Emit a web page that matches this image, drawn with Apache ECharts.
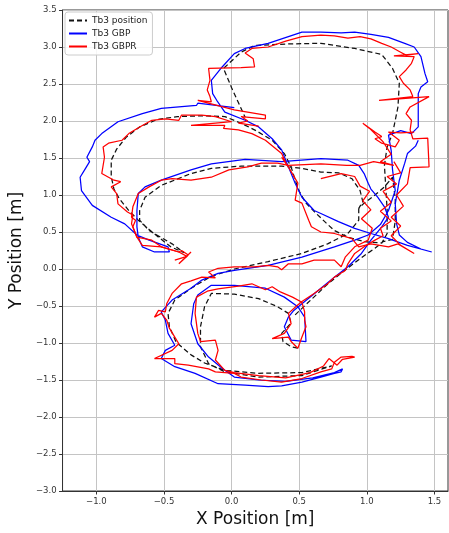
<!DOCTYPE html>
<html><head><meta charset="utf-8">
<script src="https://cdn.jsdelivr.net/npm/echarts@6/dist/echarts.min.js"></script>
<style>html,body{margin:0;padding:0;background:#fff}#c{width:449px;height:533px}</style>
</head><body><div id="c"></div>
<script>
// ---- Data (metres) ----
const xTicks = [-1.0, -0.5, 0.0, 0.5, 1.0, 1.5];
const yTicks = [-3.0, -2.5, -2.0, -1.5, -1.0, -0.5, 0.0, 0.5, 1.0, 1.5, 2.0, 2.5, 3.0, 3.5];
const seriesNames = ["Tb3 position", "Tb3 GBP", "Tb3 GBPR"];

// Tb3 position (reference path), S band + bottom loop
const posBottom = [[0.94,0.82],[0.94,0.66],[0.86,0.48],[0.71,0.34],[0.52,0.21],[0.27,0.10],[0.02,0.00],[-0.15,-0.10],[-0.30,-0.26],[-0.42,-0.42],[-0.47,-0.60],[-0.46,-0.78],[-0.41,-0.99],[-0.30,-1.16],[-0.20,-1.27],[-0.05,-1.37],[0.19,-1.41],[0.52,-1.40],[0.74,-1.31],[0.52,-1.44],[0.20,-1.46],[-0.05,-1.39],[-0.17,-1.28],[-0.23,-1.05],[-0.23,-0.78],[-0.20,-0.51],[-0.15,-0.33],[0.02,-0.34],[0.20,-0.40],[0.34,-0.51],[0.42,-0.60],[0.44,-0.73],[0.37,-0.87],[0.38,-0.98],[0.44,-1.05],[0.49,-1.07]];
// Tb3 position, main path
const posMain = [[0.47,-0.62],[0.55,-0.48],[0.62,-0.36],[0.70,-0.22],[0.80,-0.07],[0.90,0.07],[0.98,0.18],[1.06,0.28],[1.12,0.37],[1.19,0.40],[1.21,0.65],[1.21,0.95],[1.19,1.24],[1.13,1.11],[1.06,1.00],[0.98,0.89],[0.94,0.82],[0.97,0.91],[0.95,1.06],[0.89,1.22],[0.79,1.30],[0.66,1.31],[0.52,1.36],[0.37,1.39],[0.07,1.39],[-0.15,1.36],[-0.30,1.29],[-0.52,1.13],[-0.64,0.97],[-0.68,0.79],[-0.68,0.66],[-0.61,0.52],[-0.44,0.34],[-0.35,0.22],[-0.45,0.30],[-0.54,0.43],[-0.62,0.55],[-0.69,0.66],[-0.76,0.79],[-0.83,0.95],[-0.87,1.08],[-0.89,1.25],[-0.89,1.47],[-0.85,1.62],[-0.78,1.78],[-0.68,1.92],[-0.55,2.02],[-0.40,2.06],[-0.20,2.07],[-0.05,2.06],[0.07,1.97],[0.18,1.87],[0.30,1.74],[0.39,1.56],[0.44,1.38],[0.47,1.20],[0.50,1.05],[0.55,0.89],[0.62,0.76],[0.70,0.62],[0.76,0.52],[0.86,0.43],[0.98,0.37],[1.11,0.35],[1.15,0.48],[1.15,0.80],[1.14,1.10],[1.13,1.40],[1.15,1.65],[1.19,1.83],[1.23,2.19],[1.24,2.51],[1.19,2.71],[1.11,2.90],[0.91,2.98],[0.66,3.05],[0.40,3.04],[0.17,3.02],[0.07,2.93],[-0.06,2.71],[0.00,2.45],[0.05,2.25],[0.10,2.05]];

// Tb3 GBP
const gbp = [[0.02,2.18],[-0.25,2.24],[-0.26,2.21],[-0.52,2.17],[-0.66,2.10],[-0.84,1.99],[-0.96,1.83],[-1.01,1.74],[-1.03,1.65],[-1.07,1.51],[-1.05,1.45],[-1.08,1.36],[-1.12,1.24],[-1.11,1.06],[-1.03,0.86],[-0.89,0.70],[-0.79,0.61],[-0.70,0.46],[-0.61,0.39],[-0.47,0.30],[-0.46,0.23],[-0.57,0.23],[-0.66,0.30],[-0.69,0.43],[-0.70,0.57],[-0.70,0.79],[-0.69,1.02],[-0.64,1.11],[-0.52,1.20],[-0.30,1.34],[-0.15,1.42],[0.10,1.48],[0.37,1.45],[0.66,1.49],[0.86,1.47],[0.94,1.40],[0.98,1.29],[1.01,1.16],[1.03,1.08],[1.08,0.97],[1.13,0.84],[1.16,0.70],[1.11,0.57],[1.03,0.39],[0.96,0.21],[0.86,0.03],[0.76,-0.11],[0.64,-0.29],[0.52,-0.47],[0.46,-0.56],[0.42,-0.65],[0.39,-0.78],[0.44,-0.96],[0.55,-0.98],[0.54,-0.65],[0.49,-0.51],[0.39,-0.38],[0.25,-0.26],[0.02,-0.22],[-0.15,-0.22],[-0.25,-0.35],[-0.28,-0.47],[-0.30,-0.74],[-0.25,-1.01],[-0.17,-1.19],[-0.07,-1.34],[0.02,-1.46],[0.20,-1.50],[0.40,-1.52],[0.60,-1.47],[0.76,-1.40],[0.82,-1.35],[0.81,-1.39],[0.76,-1.41],[0.66,-1.46],[0.52,-1.53],[0.37,-1.58],[0.27,-1.59],[0.10,-1.57],[-0.10,-1.55],[-0.27,-1.41],[-0.42,-1.32],[-0.52,-1.21],[-0.49,-1.10],[-0.42,-1.03],[-0.47,-0.87],[-0.49,-0.69],[-0.52,-0.58],[-0.44,-0.42],[-0.30,-0.26],[-0.22,-0.15],[-0.10,-0.06],[0.02,-0.02],[0.27,0.05],[0.52,0.16],[0.76,0.30],[0.91,0.39],[1.01,0.46],[1.10,0.60],[1.16,0.79],[1.21,1.06],[1.19,1.34],[1.18,1.60],[1.16,1.81],[1.25,1.87],[1.33,1.83],[1.38,1.92],[1.38,2.15],[1.38,2.37],[1.40,2.46],[1.45,2.53],[1.43,2.64],[1.40,2.87],[1.35,3.00],[1.28,3.05],[1.16,3.13],[1.03,3.17],[0.91,3.20],[0.81,3.19],[0.66,3.20],[0.52,3.20],[0.27,3.05],[0.10,2.98],[0.02,2.91],[-0.07,2.73],[-0.15,2.55],[-0.14,2.37],[-0.11,2.28],[-0.05,2.12],[0.10,2.01],[0.20,1.92],[0.30,1.76],[0.37,1.61],[0.42,1.38],[0.47,1.16],[0.52,0.97],[0.61,0.79],[0.66,0.75],[0.79,0.64],[0.91,0.55],[1.03,0.48],[1.16,0.41],[1.30,0.32],[1.48,0.23],[1.40,0.27],[1.30,0.36],[1.24,0.46],[1.22,0.61],[1.21,0.88],[1.24,1.20],[1.28,1.43],[1.30,1.56],[1.36,1.66],[1.38,1.74]];

// Tb3 GBPR (three stretches)
const gbprA = [[-0.30,0.23],[-0.39,0.07],[-0.32,0.19],[-0.37,0.25],[-0.39,0.23],[-0.52,0.30],[-0.66,0.32],[-0.70,0.43],[-0.74,0.61],[-0.73,0.73],[-0.77,0.77],[-0.84,0.88],[-0.85,1.02],[-0.89,1.11],[-0.82,1.18],[-0.87,1.20],[-0.96,1.29],[-0.94,1.51],[-0.95,1.65],[-0.91,1.70],[-0.81,1.74],[-0.76,1.83],[-0.66,1.94],[-0.59,2.01],[-0.49,2.03],[-0.39,2.01],[-0.37,2.08],[-0.22,2.08],[-0.12,2.06],[0.00,1.99],[-0.30,1.94],[-0.05,1.94],[-0.06,1.90],[0.05,1.88],[0.15,1.83],[0.25,1.74],[0.37,1.56],[0.41,1.40],[0.37,1.51],[0.42,1.38],[0.49,1.16],[0.47,0.93],[0.52,0.89],[0.57,0.66],[0.59,0.57],[0.66,0.50],[0.76,0.48],[0.89,0.41],[0.94,0.30],[1.03,0.34],[1.16,0.30],[1.23,0.34],[1.35,0.21],[1.25,0.32],[1.18,0.45],[1.25,0.58],[1.18,0.70],[1.27,0.85],[1.22,1.00],[1.30,1.15],[1.32,1.37],[1.46,1.38],[1.45,1.77],[1.34,1.76],[1.32,1.88],[1.33,2.01],[1.29,2.10],[1.32,2.19],[1.46,2.33],[1.09,2.28],[1.34,2.33],[1.32,2.42],[1.27,2.51],[1.24,2.60],[1.29,2.69],[1.33,2.78],[1.35,2.87],[1.20,2.88],[1.38,2.91],[1.29,2.89],[1.25,2.93],[1.18,3.00],[1.11,3.05],[1.03,3.11],[0.95,3.14],[0.86,3.12],[0.76,3.15],[0.66,3.16],[0.52,3.14],[0.40,3.08],[0.27,3.00],[0.15,2.98],[0.10,2.92],[0.16,2.84],[0.17,2.73],[0.07,2.72],[-0.17,2.71],[-0.16,2.55],[-0.18,2.42],[-0.16,2.33],[-0.15,2.26],[-0.25,2.28],[0.02,2.15],[0.25,2.08],[0.25,2.03],[0.07,2.06],[0.12,2.00],[0.05,1.97],[0.20,1.93]];
const gbprB = [[1.35,1.85],[1.25,1.84],[1.16,1.85],[1.24,1.74],[1.21,1.65],[1.11,1.70],[1.06,1.76],[1.11,1.79],[1.06,1.85],[0.97,1.97],[1.02,1.90],[1.12,1.72],[1.18,1.55],[1.10,1.45],[1.20,1.40],[1.05,1.45],[0.95,1.40],[0.85,1.40],[0.66,1.42],[0.42,1.40],[0.34,1.43],[0.22,1.43],[0.12,1.38],[-0.02,1.34],[-0.15,1.24],[-0.30,1.20],[-0.44,1.22],[-0.52,1.20],[-0.61,1.11],[-0.69,1.02],[-0.73,0.84],[-0.74,0.70],[-0.71,0.66],[-0.73,0.57],[-0.70,0.43],[-0.59,0.39],[-0.52,0.30],[-0.39,0.23],[-0.33,0.17],[-0.42,0.12]];
const gbprC = [[0.66,1.22],[0.81,1.29],[0.91,1.25],[0.95,1.12],[1.02,1.05],[0.97,0.92],[1.03,0.80],[0.96,0.68],[1.04,0.55],[1.01,0.39],[0.91,0.30],[0.84,0.16],[0.81,0.03],[0.76,0.12],[0.61,0.12],[0.52,0.07],[0.42,0.07],[0.37,-0.01],[0.34,0.03],[0.27,0.05],[0.17,0.03],[0.02,0.03],[-0.10,0.01],[-0.17,-0.04],[-0.12,-0.12],[-0.22,-0.11],[-0.30,-0.16],[-0.37,-0.20],[-0.44,-0.33],[-0.48,-0.47],[-0.49,-0.58],[-0.54,-0.56],[-0.57,-0.65],[-0.52,-0.60],[-0.48,-0.69],[-0.46,-0.80],[-0.42,-0.92],[-0.39,-1.01],[-0.44,-1.10],[-0.57,-1.21],[-0.42,-1.21],[-0.42,-1.28],[-0.32,-1.30],[-0.17,-1.35],[-0.12,-1.39],[0.02,-1.41],[0.07,-1.46],[0.22,-1.50],[0.37,-1.53],[0.52,-1.48],[0.66,-1.39],[0.74,-1.35],[0.76,-1.26],[0.81,-1.19],[0.89,-1.18],[0.91,-1.19],[0.82,-1.22],[0.78,-1.30],[0.72,-1.21],[0.68,-1.31],[0.58,-1.40],[0.40,-1.47],[0.20,-1.44],[0.02,-1.40],[-0.05,-1.37],[-0.12,-1.23],[-0.10,-1.10],[-0.12,-0.96],[-0.23,-0.98],[-0.25,-0.87],[-0.27,-0.60],[-0.26,-0.38],[-0.18,-0.30],[-0.10,-0.27],[0.05,-0.23],[0.15,-0.20],[0.25,-0.28],[0.30,-0.24],[0.36,-0.31],[0.45,-0.38],[0.52,-0.45],[0.54,-0.58],[0.54,-0.69],[0.55,-0.78],[0.52,-0.92],[0.49,-1.07],[0.44,-0.98],[0.42,-0.92],[0.30,-0.94],[0.39,-0.87],[0.44,-0.74],[0.42,-0.60],[0.48,-0.50],[0.52,-0.44],[0.61,-0.33],[0.71,-0.20],[0.76,-0.11],[0.84,-0.02],[0.86,0.07],[0.91,0.21],[0.98,0.30],[1.05,0.38],[1.12,0.45],[1.10,0.55],[1.18,0.65],[1.10,0.78],[1.18,0.90],[1.12,1.05],[1.22,1.15],[1.15,1.25],[1.25,1.30],[1.20,1.45]];

// ---- Chart ----
const fmt = v => { const s = Number(v).toFixed(1); return s.replace('-', '\u2212'); };
const font = 'DejaVu Sans';
function lineSeries(name, data, color, dashed, z) {
  return { name, type: 'line', data, symbol: 'none', showSymbol: false, smooth: false, z,
    lineStyle: { color, width: 1.25, type: dashed ? [5, 3] : 'solid' }, itemStyle: { color },
    emphasis: { disabled: true }, silent: true, animation: false, clip: true };
}
const chart = echarts.init(document.getElementById('c'), null, { renderer: 'canvas' });
chart.setOption({
  animation: false,
  backgroundColor: '#ffffff',
  grid: { left: 60, right: 1, top: 10, bottom: 42, show: true, borderColor: '#333', borderWidth: 1, backgroundColor: 'transparent' },
  legend: {
    data: seriesNames, orient: 'vertical', left: 65, top: 12,
    itemWidth: 18, itemHeight: 9, itemGap: 4,
    padding: [4, 5, 4, 3],
    itemStyle: { opacity: 0 },
    backgroundColor: 'rgba(255,255,255,0.85)', borderColor: '#cccccc', borderWidth: 1, borderRadius: 3,
    textStyle: { fontFamily: font, fontSize: 9, color: '#222' }
  },
  xAxis: {
    type: 'value', min: -1.25, max: 1.6,
    name: 'X Position [m]', nameLocation: 'middle', nameGap: 17,
    nameTextStyle: { fontFamily: font, fontSize: 17, color: '#111' },
    axisLine: { show: true, onZero: false, lineStyle: { color: '#333', width: 1 } },
    axisTick: { show: true, inside: false, length: 3.5, customValues: xTicks, lineStyle: { color: '#333' } },
    axisLabel: { customValues: xTicks, formatter: fmt, fontFamily: font, fontSize: 8.5, color: '#333', margin: 6 },
    splitLine: { show: true, lineStyle: { color: '#c4c4c4', width: 1 } }
  },
  yAxis: {
    type: 'value', min: -3.0, max: 3.5, interval: 0.5,
    name: 'Y Position [m]', nameLocation: 'middle', nameGap: 33,
    nameTextStyle: { fontFamily: font, fontSize: 17, color: '#111' },
    axisLine: { show: true, onZero: false, lineStyle: { color: '#333', width: 1 } },
    axisTick: { show: true, inside: false, length: 3.5, lineStyle: { color: '#333' } },
    axisLabel: { formatter: fmt, fontFamily: font, fontSize: 8.5, color: '#333', margin: 6 },
    splitLine: { show: true, lineStyle: { color: '#c4c4c4', width: 1 } }
  },
  series: [
    lineSeries(seriesNames[0], posBottom, '#111111', true, 2),
    lineSeries(seriesNames[0], posMain, '#111111', true, 2),
    lineSeries(seriesNames[1], gbp, '#0000ff', false, 3),
    lineSeries(seriesNames[2], gbprA, '#ff0000', false, 4),
    lineSeries(seriesNames[2], gbprB, '#ff0000', false, 4),
    lineSeries(seriesNames[2], gbprC, '#ff0000', false, 4)
  ]
});
</script></body></html>
